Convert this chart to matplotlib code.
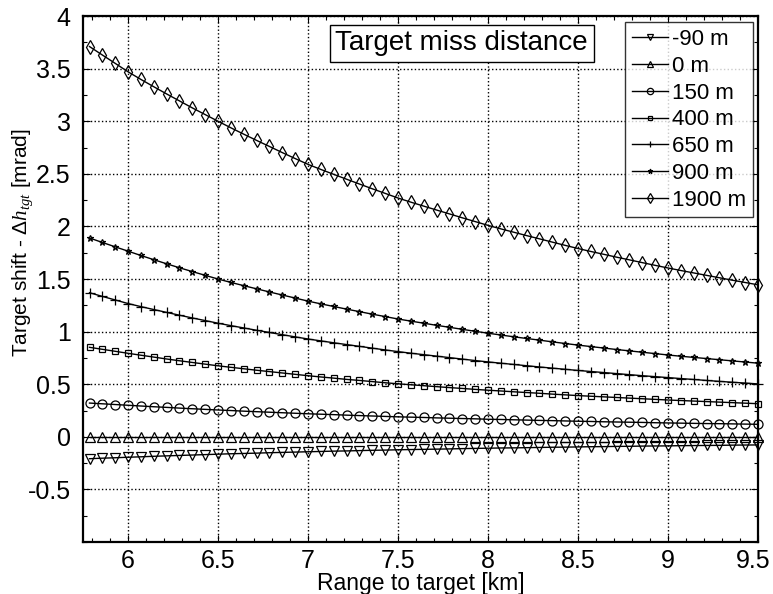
import matplotlib
matplotlib.use("Agg")
import matplotlib.pyplot as plt
from matplotlib.ticker import MultipleLocator
from matplotlib.transforms import ScaledTranslation

plt.rcParams['font.family'] = ['Liberation Sans', 'DejaVu Sans']
plt.rcParams['mathtext.fontset'] = 'custom'
plt.rcParams['mathtext.rm'] = 'Liberation Sans'
plt.rcParams['mathtext.it'] = 'Liberation Serif:italic'
plt.rcParams['mathtext.bf'] = 'Liberation Sans:bold'

# Range to target [km]
range_km = [5.786, 5.857, 5.929, 6.000, 6.071, 6.143, 6.214, 6.286, 6.357, 6.429,
            6.500, 6.571, 6.643, 6.714, 6.786, 6.857, 6.929, 7.000, 7.071, 7.143,
            7.214, 7.286, 7.357, 7.429, 7.500, 7.571, 7.643, 7.714, 7.786, 7.857,
            7.929, 8.000, 8.071, 8.143, 8.214, 8.286, 8.357, 8.429, 8.500, 8.571,
            8.643, 8.714, 8.786, 8.857, 8.929, 9.000, 9.071, 9.143, 9.214, 9.286,
            9.357, 9.429, 9.500]

# Target shift [mrad] for each miss distance
shift_m90 = [-0.208, -0.203, -0.199, -0.194, -0.190, -0.185, -0.181, -0.177, -0.173, -0.169,
             -0.165, -0.161, -0.158, -0.155, -0.151, -0.148, -0.145, -0.142, -0.139, -0.136,
             -0.134, -0.131, -0.128, -0.126, -0.123, -0.121, -0.119, -0.117, -0.115, -0.112,
             -0.110, -0.108, -0.106, -0.105, -0.103, -0.101, -0.099, -0.098, -0.096, -0.094,
             -0.093, -0.091, -0.090, -0.088, -0.087, -0.086, -0.084, -0.083, -0.082, -0.081,
             -0.079, -0.078, -0.077]
shift_0 = [0.0, 0.0, 0.0, 0.0, 0.0, 0.0, 0.0, 0.0, 0.0, 0.0,
           0.0, 0.0, 0.0, 0.0, 0.0, 0.0, 0.0, 0.0, 0.0, 0.0,
           0.0, 0.0, 0.0, 0.0, 0.0, 0.0, 0.0, 0.0, 0.0, 0.0,
           0.0, 0.0, 0.0, 0.0, 0.0, 0.0, 0.0, 0.0, 0.0, 0.0,
           0.0, 0.0, 0.0, 0.0, 0.0, 0.0, 0.0, 0.0, 0.0, 0.0,
           0.0, 0.0, 0.0]
shift_150 = [0.321, 0.314, 0.307, 0.300, 0.293, 0.286, 0.280, 0.273, 0.267, 0.261,
             0.255, 0.250, 0.244, 0.239, 0.234, 0.229, 0.224, 0.219, 0.215, 0.211,
             0.206, 0.202, 0.198, 0.194, 0.190, 0.187, 0.184, 0.180, 0.177, 0.174,
             0.171, 0.167, 0.165, 0.162, 0.159, 0.156, 0.154, 0.151, 0.148, 0.146,
             0.143, 0.141, 0.139, 0.137, 0.134, 0.132, 0.130, 0.128, 0.126, 0.125,
             0.123, 0.121, 0.119]
shift_400 = [0.851, 0.832, 0.813, 0.794, 0.776, 0.758, 0.740, 0.723, 0.707, 0.691,
             0.675, 0.661, 0.647, 0.633, 0.620, 0.607, 0.594, 0.581, 0.569, 0.558,
             0.546, 0.536, 0.525, 0.514, 0.504, 0.495, 0.486, 0.477, 0.468, 0.460,
             0.451, 0.443, 0.436, 0.428, 0.421, 0.414, 0.406, 0.399, 0.392, 0.386,
             0.380, 0.374, 0.368, 0.362, 0.356, 0.350, 0.345, 0.340, 0.335, 0.330,
             0.325, 0.320, 0.315]
shift_650 = [1.370, 1.335, 1.301, 1.267, 1.238, 1.210, 1.183, 1.156, 1.130, 1.105,
             1.080, 1.057, 1.035, 1.013, 0.992, 0.971, 0.950, 0.930, 0.912, 0.894,
             0.877, 0.860, 0.843, 0.826, 0.810, 0.795, 0.781, 0.767, 0.753, 0.739,
             0.725, 0.712, 0.700, 0.688, 0.676, 0.664, 0.653, 0.642, 0.631, 0.621,
             0.611, 0.601, 0.591, 0.581, 0.572, 0.563, 0.554, 0.545, 0.536, 0.527,
             0.519, 0.511, 0.503]
shift_900 = [1.890, 1.848, 1.806, 1.765, 1.724, 1.684, 1.645, 1.607, 1.571, 1.535,
             1.500, 1.468, 1.437, 1.407, 1.377, 1.348, 1.319, 1.290, 1.264, 1.239,
             1.214, 1.190, 1.166, 1.143, 1.120, 1.100, 1.080, 1.060, 1.041, 1.022,
             1.003, 0.985, 0.968, 0.951, 0.935, 0.919, 0.903, 0.887, 0.872, 0.858,
             0.844, 0.830, 0.817, 0.804, 0.791, 0.778, 0.766, 0.755, 0.744, 0.733,
             0.722, 0.711, 0.700]
shift_1900 = [3.710, 3.630, 3.550, 3.470, 3.398, 3.328, 3.260, 3.193, 3.127, 3.063,
              3.000, 2.938, 2.877, 2.818, 2.760, 2.702, 2.645, 2.590, 2.542, 2.495,
              2.449, 2.403, 2.358, 2.314, 2.270, 2.231, 2.193, 2.156, 2.119, 2.082,
              2.046, 2.010, 1.977, 1.945, 1.913, 1.882, 1.851, 1.820, 1.790, 1.762,
              1.735, 1.708, 1.682, 1.656, 1.630, 1.605, 1.581, 1.558, 1.535, 1.512,
              1.489, 1.467, 1.445]

series_labels = ['-90 m', '0 m', '150 m', '400 m', '650 m', '900 m', '1900 m']
series_values = [shift_m90, shift_0, shift_150, shift_400, shift_650, shift_900, shift_1900]
markers = ['v', '^', 'o', 's', '+', '*', 'd']
marker_sizes = [6.5, 6.5, 6.5, 5, 7, 5, 7.5]

x_ticks = [6, 6.5, 7, 7.5, 8, 8.5, 9, 9.5]
x_tick_labels = ['6', '6.5', '7', '7.5', '8', '8.5', '9', '9.5']
y_ticks = [-0.5, 0, 0.5, 1, 1.5, 2, 2.5, 3, 3.5, 4]
y_tick_labels = ['-0.5', '0', '0.5', '1', '1.5', '2', '2.5', '3', '3.5', '4']

fig = plt.figure(figsize=(7.73, 5.94), dpi=100)
ax = fig.add_axes([0.1074, 0.0875, 0.8732, 0.8855])

for vals, lab, mk, ms in zip(series_values, series_labels, markers, marker_sizes):
    ax.plot(range_km, vals, color='black', linewidth=1.0, marker=mk,
            markersize=ms, markerfacecolor='none', markeredgecolor='black',
            markeredgewidth=0.9, label=lab, clip_on=False)

ax.set_xlim(5.75, 9.5)
ax.set_ylim(-1, 4)
ax.set_xticks(x_ticks)
ax.set_xticklabels(x_tick_labels)
ax.set_yticks(y_ticks)
ax.set_yticklabels(y_tick_labels)
ax.xaxis.set_minor_locator(MultipleLocator(0.1))
ax.yaxis.set_minor_locator(MultipleLocator(0.25))

ax.tick_params(which='both', direction='in', top=True, right=True, labelsize=18,
               width=0.8)
ax.tick_params(which='major', length=5)
ax.tick_params(axis='y', which='major', pad=9)
ax.tick_params(axis='x', which='major', pad=5)
ax.tick_params(which='minor', length=3)
for sp in ax.spines.values():
    sp.set_linewidth(1.6)

# keep the last x tick label inside the figure edge
last_lbl = ax.get_xticklabels()[-1]
last_lbl.set_transform(last_lbl.get_transform()
                       + ScaledTranslation(-3.5 / 72, 0, fig.dpi_scale_trans))

ax.grid(True, which='major', linestyle=':', color='black', linewidth=1.0)

ax.set_xlabel('Range to target [km]', fontsize=16.5, labelpad=-1)
ax.set_ylabel(r'Target shift - $\Delta h_{tgt}$ [mrad]', fontsize=15)
ax.yaxis.set_label_coords(-0.071, 0.57)

ax.text(0.561, 0.948, 'Target miss distance', transform=ax.transAxes,
        ha='center', va='center', fontsize=20,
        bbox=dict(boxstyle='square,pad=0.2', facecolor='white',
                  edgecolor='black', linewidth=1.0))

leg = ax.legend(loc='upper right', bbox_to_anchor=(0.9925, 0.988), fontsize=16,
                frameon=True, fancybox=False, edgecolor='black', markerscale=0.7,
                handlelength=1.6, handletextpad=0.2, labelspacing=0.26,
                borderpad=0.3, borderaxespad=0.0)
leg.get_frame().set_linewidth(1.0)

fig.savefig('out.png', dpi=100, facecolor='white')
